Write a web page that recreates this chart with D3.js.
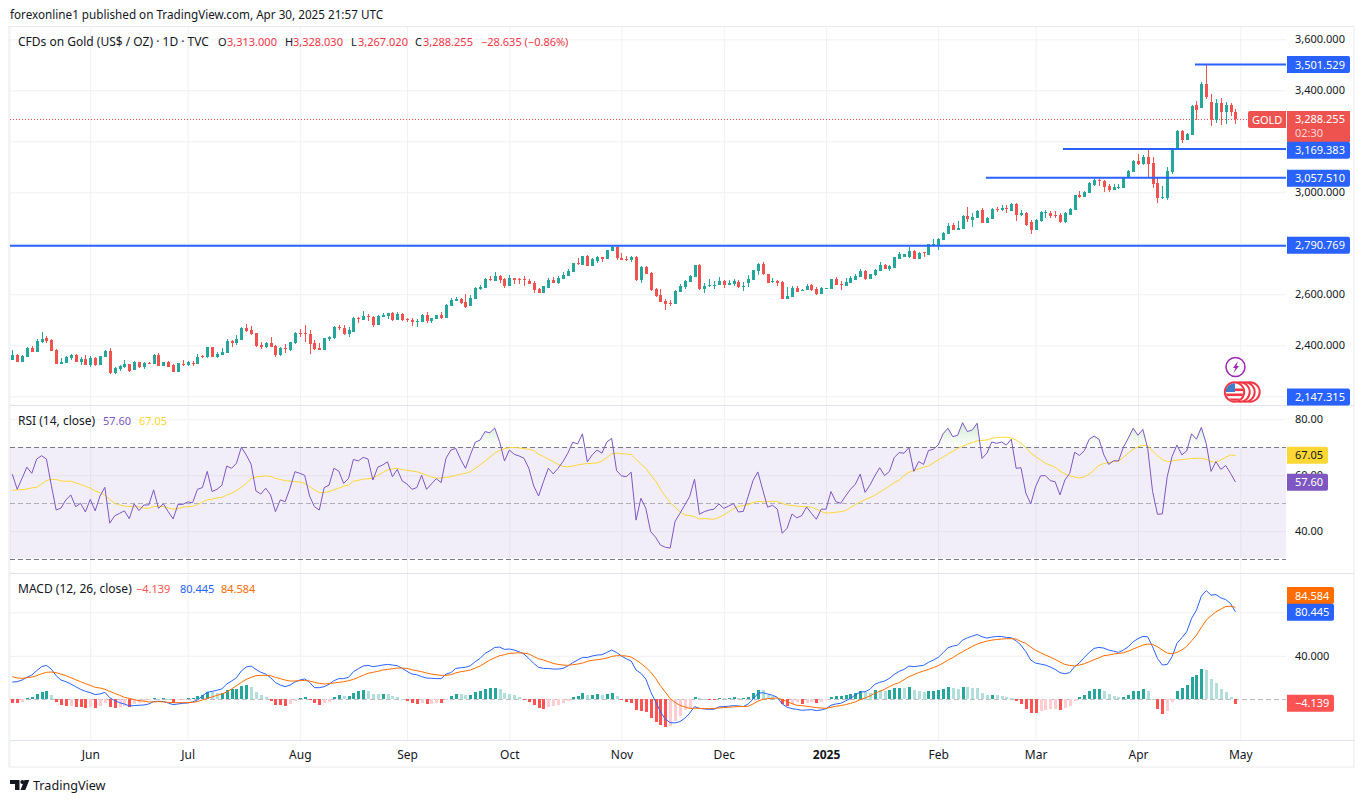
<!DOCTYPE html>
<html>
<head>
<meta charset="utf-8">
<script src="https://d3js.org/d3.v7.min.js"></script>
<style>
  html, body { margin: 0; padding: 0; background: #fff; overflow: hidden; }
  text { font-family: "Noto Sans", sans-serif; font-size: 11px; fill: #131722; }
</style>
</head>
<body>
<script>
// daily candles
var opens = [
2342,2362,2334,2354,2389,2374,2413,2429,2421,2381,2327,2330,2350,2362,2334,2346,2323,2350,2323,2354,
2378,2291,2307,2315,2327,2303,2334,2315,2330,2327,2362,2319,2334,2323,2295,2327,2323,2330,2327,2358,
2354,2393,2354,2362,2370,2417,2409,2421,2468,2460,2448,2401,2393,2409,2397,2362,2389,2381,2409,2448,
2448,2444,2409,2389,2381,2425,2429,2472,2468,2444,2452,2507,2499,2515,2511,2479,2511,2515,2527,2499,
2523,2503,2499,2491,2491,2519,2495,2503,2519,2507,2554,2574,2581,2570,2554,2581,2621,2625,2660,2652,
2672,2660,2632,2664,2660,2660,2652,2644,2621,2605,2625,2656,2644,2660,2672,2687,2723,2715,2750,2711,
2730,2746,2738,2770,2785,2742,2738,2734,2746,2656,2707,2683,2621,2597,2574,2566,2562,2609,2628,2648,
2668,2715,2621,2632,2634,2636,2652,2636,2640,2648,2628,2644,2656,2691,2719,2679,2648,2652,2648,2581,
2589,2625,2613,2617,2636,2621,2601,2621,2621,2660,2640,2632,2644,2656,2668,2691,2660,2676,2691,2715,
2699,2703,2738,2748,2745,2770,2737,2765,2754,2792,2792,2813,2837,2872,2852,2856,2908,2891,2899,2931,
2881,2895,2935,2931,2938,2928,2955,2911,2918,2885,2852,2888,2918,2920,2912,2912,2885,2911,2931,2989,
2982,2997,3029,3048,3044,3026,3009,3017,3017,3055,3080,3123,3111,3138,3115,3036,2978,2978,3078,3172,
3240,3205,3225,3341,3331,3425,3354,3284,3350,3315,3342,3313];
var highs = [
2381,2366,2361,2392,2397,2425,2452,2436,2425,2385,2350,2358,2366,2366,2354,2362,2358,2354,2358,2381,
2389,2315,2323,2342,2327,2338,2334,2334,2334,2366,2370,2334,2338,2327,2330,2342,2338,2338,2366,2362,
2393,2393,2374,2389,2425,2421,2440,2472,2483,2476,2448,2413,2413,2432,2401,2393,2405,2413,2452,2464,
2479,2460,2421,2409,2429,2436,2476,2479,2479,2472,2511,2511,2534,2523,2515,2519,2527,2527,2530,2530,
2527,2507,2507,2503,2523,2530,2507,2519,2530,2562,2585,2589,2585,2601,2597,2628,2636,2664,2672,2687,
2676,2664,2676,2664,2664,2672,2660,2652,2625,2632,2664,2668,2672,2687,2699,2723,2742,2750,2754,2742,
2750,2746,2774,2790,2790,2762,2750,2750,2750,2711,2711,2687,2625,2621,2581,2578,2617,2640,2656,2676,
2715,2719,2644,2660,2652,2668,2656,2656,2660,2656,2648,2676,2695,2723,2727,2679,2664,2656,2652,2628,
2632,2632,2621,2640,2640,2628,2628,2625,2660,2668,2652,2664,2672,2679,2699,2695,2679,2699,2727,2719,
2715,2746,2766,2757,2784,2775,2765,2767,2796,2816,2820,2844,2881,2881,2888,2912,2942,2918,2931,2938,
2904,2938,2944,2952,2952,2959,2959,2931,2921,2891,2895,2928,2931,2928,2928,2918,2921,2938,2989,3005,
3005,3040,3055,3056,3048,3033,3033,3033,3056,3087,3127,3150,3146,3166,3138,3055,3025,3099,3174,3244,
3244,3233,3342,3358,3433,3500,3385,3366,3370,3354,3350,3328];
var lows = [
2342,2334,2334,2354,2374,2374,2409,2409,2378,2327,2327,2330,2342,2334,2323,2323,2315,2319,2323,2354,
2287,2287,2299,2311,2295,2303,2311,2307,2327,2327,2319,2319,2315,2295,2295,2319,2319,2319,2327,2350,
2350,2354,2350,2362,2370,2393,2401,2421,2452,2440,2393,2385,2389,2393,2354,2358,2370,2378,2405,2432,
2413,2366,2381,2381,2381,2417,2425,2460,2440,2432,2452,2487,2499,2495,2472,2479,2511,2503,2495,2499,
2495,2491,2476,2472,2491,2487,2487,2503,2503,2507,2554,2574,2562,2546,2554,2581,2617,2625,2652,2652,
2644,2625,2632,2640,2640,2632,2640,2605,2605,2605,2625,2644,2640,2660,2672,2687,2715,2715,2711,2711,
2723,2727,2738,2770,2734,2734,2730,2727,2652,2644,2679,2613,2589,2570,2538,2554,2562,2609,2621,2648,
2668,2617,2605,2628,2621,2636,2625,2636,2632,2625,2613,2628,2656,2676,2676,2644,2644,2632,2581,2581,
2589,2609,2613,2617,2613,2597,2601,2621,2621,2636,2617,2632,2644,2656,2668,2656,2660,2672,2691,2699,
2691,2703,2738,2748,2741,2737,2737,2748,2754,2790,2774,2813,2837,2852,2852,2856,2885,2865,2899,2881,
2881,2895,2921,2928,2920,2928,2889,2907,2869,2835,2852,2885,2898,2898,2898,2878,2881,2911,2931,2979,
2982,2997,3026,3025,3001,3001,3009,3013,3017,3055,3080,3106,3107,3059,3017,2958,2974,2970,3072,3172,
3193,3205,3225,3284,3331,3366,3260,3270,3264,3268,3299,3267];
var closes = [
2362,2334,2358,2389,2374,2417,2425,2417,2378,2327,2334,2354,2362,2334,2346,2323,2350,2323,2358,2378,
2291,2311,2319,2327,2299,2334,2315,2330,2327,2362,2319,2334,2315,2295,2330,2323,2334,2327,2354,2354,
2393,2354,2366,2374,2417,2409,2425,2468,2456,2444,2397,2393,2409,2393,2362,2389,2385,2413,2448,2444,
2444,2405,2385,2381,2429,2432,2472,2468,2444,2460,2507,2503,2515,2511,2479,2515,2519,2527,2499,2523,
2499,2499,2491,2495,2519,2495,2507,2519,2507,2558,2578,2581,2566,2550,2585,2625,2628,2660,2656,2672,
2656,2632,2664,2656,2656,2656,2640,2617,2605,2632,2656,2644,2664,2676,2691,2723,2719,2750,2711,2738,
2746,2738,2774,2785,2742,2734,2734,2746,2656,2707,2679,2617,2593,2570,2562,2562,2613,2632,2652,2672,
2715,2621,2632,2636,2636,2652,2636,2644,2652,2628,2632,2660,2695,2719,2679,2644,2652,2644,2581,2593,
2625,2609,2617,2632,2617,2601,2625,2625,2660,2636,2636,2648,2664,2672,2691,2660,2679,2695,2715,2699,
2711,2746,2758,2757,2770,2737,2762,2761,2796,2796,2816,2842,2868,2852,2859,2908,2895,2904,2928,2881,
2901,2935,2931,2938,2935,2955,2911,2918,2872,2852,2891,2921,2921,2908,2908,2882,2918,2935,2989,2982,
3001,3038,3048,3044,3021,3009,3021,3021,3056,3084,3123,3111,3138,3111,3033,2978,2982,3084,3174,3240,
3205,3229,3338,3323,3425,3372,3284,3350,3315,3342,3315,3288];

var rsi = [
60.4,55,58.9,62.9,60.7,65.8,67,65.8,56.5,47.6,48.3,51.2,53,48.8,50,46.9,51.4,47.3,52.6,55.7,
42.9,45.5,46.4,47.3,44.5,49.8,47.4,49.4,49.4,54.8,48.2,49.8,47,44.4,49.6,49.6,50.5,50.2,55,55.6,
61.4,54.2,55,56.4,63.3,62.5,64.3,70,67.3,64,54.4,53.3,55.4,53,47,51.2,50.6,55.4,61.3,60.7,
60,52.6,48.8,47.6,55.6,56.5,62.5,61.5,57.1,58.9,65.7,65.1,66.4,65.8,58.3,62.9,63.7,64.8,59.5,62.1,
58,56.9,55,55.6,60,55,56.9,58.8,57.4,66.1,69,69.6,65.7,62.5,67.3,71.8,72.6,75.6,75.2,76.9,
72,65.1,69,67.5,66.9,66.1,62.5,56.2,52.6,57.7,62.5,60.5,62.5,64.9,67.9,71.8,71.2,74.8,64.8,67.3,
69,67.9,71.9,73.2,61.7,59.8,59.5,61.1,44,51.8,48.2,39.9,37.9,35.1,34.3,34,43.5,46.4,49.4,52.4,
58.6,46.1,47,47.6,47.9,49.8,48.2,49,49.9,46.9,47.1,52.4,58.1,61.2,54.8,48.6,49.3,47.9,39.3,41.1,
46.2,44.8,45.6,48.7,46.4,44.3,47.9,47.9,54.2,50.6,50,52.6,55,56.8,60.4,53.9,56.5,59.8,62.7,59.9,
61.4,66.4,68.1,67.9,69.9,61.4,64.9,63.9,68.8,69.3,70.8,74.8,76.8,73.8,74.3,78.8,75.6,76.2,78.6,66,
67.9,71.9,71.4,71.9,70.8,72.9,62.5,62.7,53.6,49.8,56,59.8,59.9,58.1,57.7,53,58.3,60.7,68.2,67.1,
68.8,72.9,74,72.9,67.3,63.9,65.2,65.1,70,73.2,76.8,74.3,76.4,69.6,54.2,46.1,46.2,59.5,66.7,70.8,
67.3,68.7,74.8,72.9,77.1,71.4,61.4,64.9,62.1,63.5,60.7,57.6];
var rsiMa = [
54.6,54.8,54.9,55.1,55.5,55.7,56.9,58.1,58.6,58.5,58,57.9,57.9,57.3,56.7,56.1,55.4,54.4,53.8,52.9,
51.4,50,49.4,49,48.9,48.8,48.7,48.3,48.2,48.8,49,48.8,48.3,47.9,48.1,48.6,48.8,48.9,49.5,50.5,
51.2,51.5,51.9,52.1,52.9,53.6,54.6,55.7,57.1,58.8,59.4,59.6,59.8,59.6,58.9,58.5,58.1,57.9,57.7,57.6,
57.1,56,54.8,53.8,53.8,54.2,54.8,55.4,56.1,56.5,57.9,58.2,58.6,58.8,59,60,61,61.9,62.3,62.5,
62,61.8,61.5,61.3,60.7,60.1,59.4,59,59,59.3,59.5,60,60.4,60.7,61.3,62.5,63.7,65.1,66.5,67.9,
68.9,69.5,69.9,69.9,69.8,69.5,69.3,68.8,67.6,66.7,65.8,64.9,63.9,63.2,63,63.3,63.7,64,64.2,64.3,
64.4,65.1,66.3,67.7,67.9,67.7,67.6,67.4,65.7,64,62.5,60.1,58,55,52.6,50.2,48.6,47,45.8,45.6,
45.2,44.4,44.5,44.4,44.3,45,45.8,46.9,48.1,48.9,49.2,49.5,50.2,50.7,50.5,50.6,50.7,50.7,50,49.4,
49.2,49,48.8,48.8,48.6,47.9,47.1,46.5,46.6,46.8,47,47.4,48.5,49.5,50.5,51.3,52,52.9,54,55.1,
56.2,57.4,58.3,59.9,61.1,61.7,62.3,62.9,63.3,64.4,65.5,66.5,67.6,68.6,69.6,70.4,71.1,71.7,72.3,72.5,
72.6,73.2,73.5,73.6,73.6,73.3,72.6,71.4,70,67.9,66.7,65.5,64.3,63.6,62.9,61.5,60.5,59.8,59.4,59,
59.5,60.4,61.9,63.5,64.2,64.5,64.9,65.1,66.4,67.9,69.3,70.2,70.7,70.5,68.6,67,65.6,64.9,65.1,65.4,
65.6,65.8,66,66.1,66.1,65.7,64.9,64.6,65.5,66.4,67.3,67.05];

var macd = [
15.9,16.2,17.7,20.2,22.3,26.3,30,31.2,27.8,21.7,17.7,16.2,14.1,11.6,9.2,7.3,6.1,4.3,4.9,6.4,
1.5,-1.2,-3.1,-4.3,-6.1,-5.8,-5.5,-5.2,-4.3,-2.1,-1.8,-2.1,-3.4,-4.9,-4.3,-3.7,-3.4,-2.4,-0.6,3.1,
6.4,7.3,8.3,9.5,14.1,16.8,19.9,26,29.7,30.6,27.5,24.8,23.2,19.9,15.3,13.1,11.6,13.1,15.9,17.7,
18.7,15.6,10.7,10.7,11.6,13.8,17.1,19,19,20.2,25.4,28.1,30.6,31.2,30,30.6,31.5,32.1,31.5,30.9,
28.4,25.7,23.2,22.6,20.8,19.6,19.3,19,19,23.2,24.5,28.4,29,29.4,30.9,34.6,37.6,42.2,44.6,47.7,
48,45.9,46.2,45.3,43.7,41.6,37.6,33,29.4,28.4,28.4,27.8,27.8,28.4,30.6,33.6,36.1,38.5,38.5,39.8,
40.7,41,43.1,45.3,43.1,39.8,37.3,35.2,26.9,23.9,18.7,7,-2.1,-11.3,-18.3,-21.4,-21.7,-20.5,-17.4,-12.8,
-6.7,-8.3,-8.9,-9.2,-9.2,-7,-6.7,-6.4,-5.8,-6.1,-6.7,-4.3,0,5.5,6.1,4.9,3.7,1.8,-4.3,-7.3,
-8.6,-9.2,-10.1,-9.8,-9.5,-10.4,-9.8,-8.6,-5.5,-4.3,-3.7,-1.5,0.9,4,6.7,7,9.2,13.8,15.6,16.8,
19.3,22.9,25.7,27.5,30.6,30,30.6,31.2,33.9,36.1,38.5,42.8,47.4,48.9,49.8,54.4,56.6,58.1,59.6,57.5,
56.3,57.2,57.8,57.8,56.9,56.6,53.8,49.8,43.7,36.1,33.3,32.4,31.5,29.7,27.5,24.5,23.5,24.5,30,33.6,
38.5,43.1,46.8,47.7,47.1,45.3,44.3,43.1,45.3,48.3,52.9,55.7,57.8,57.5,48.3,37.6,31.5,32.1,39.1,51.4,
56.6,62.1,74.3,82,94.8,100,95.7,96.3,93.3,91.7,88.1,80.445];
var signal = [
20.8,19.6,19.3,19.9,20.5,21.7,23.5,24.8,25.1,24.5,23.2,21.7,19.9,18,16.2,14.4,12.8,11,10.4,9.2,
7.3,5.5,3.7,1.8,0.9,-0.3,-1.2,-1.8,-2.4,-2.4,-2.1,-2.4,-2.8,-3.1,-3.1,-3.1,-3.1,-2.8,-2.1,-0.6,
0.9,2.1,3.7,4.9,6.7,9.5,12.5,15.6,18.3,20.2,21.7,22,22,21.7,20.2,19,17.7,16.8,16.8,17.1,
17.4,16.8,15.6,14.7,14.1,14.4,15,15.6,16.2,17.1,18.3,20.2,22,23.9,24.8,25.7,26.9,27.5,28.1,28.7,
28.7,28.4,27.2,26.3,25.4,24.2,23.2,22.6,22,22,22.6,24.2,25.4,26,26.9,28.7,30.6,33.3,36.1,38.2,
40.1,41,42.2,42.5,42.8,42.5,41.6,39.4,37.3,36.1,34.6,33,32.1,31.5,31.2,31.8,32.4,33.3,34.9,35.8,
36.4,37,37.9,39.4,40.1,40.1,39.8,38.8,36.1,33,29.4,25.1,19.3,12.5,6.7,0.6,-2.8,-5.5,-7,-8.3,
-8.3,-8.3,-8.6,-8.6,-8.3,-8,-7.6,-7.3,-7,-6.7,-6.7,-6.4,-4.3,-1.8,0,0.6,0.9,1.2,-0.3,-2.1,
-4,-5.5,-5.8,-6.4,-7,-7.6,-8,-8.3,-7.3,-6.4,-5.8,-4.9,-3.7,-2.4,-0.3,1.2,3.1,5.5,7.3,9.2,
11.6,13.8,15.3,18,20.8,22.6,24.5,26,27.5,29.1,30.9,33.3,36.1,38.2,41.3,43.7,46.2,48.6,50.8,52.3,
53.5,54.4,55,55.4,55.7,55.7,55.4,53.2,51.4,48,45,42.8,40.7,38.8,36.7,34.3,32.1,31.2,30.6,31.5,
32.7,34.6,36.4,38.2,40.1,40.7,41.6,42.2,42.8,44.3,46.2,48,49.8,50.8,50.5,48.3,45.3,42.5,41.9,43.1,
45.3,48.6,53.8,59,66.1,72.8,76.8,80.4,82.9,85.3,85.6,84.584];
var hist = [
-4,-4.1,-2.4,1.2,2.1,4.9,6.7,7.6,4,-2.4,-5.2,-6.1,-6,-7,-7.1,-8,-7.3,-8.1,-6.1,-3.4,
-7,-8,-7,-6.1,-7.3,-4.3,-3.4,-1.5,-0.6,1.2,0.3,1.2,0.3,-3.4,-0.6,-0.3,1.2,1.3,3.1,4,
6.7,6.6,5.8,5.9,8.6,9.5,9.6,12.2,13.1,11.3,6.7,4,2.1,-1.5,-5.2,-5.3,-6.1,-4.3,-1.5,1.2,
2.1,-0.3,-3.4,-5.2,-3.4,-2.4,2.1,4,3.1,3.2,5.8,7.6,8.6,7.6,4.9,4.8,4.9,4.8,3.1,2.1,
0.6,-1.5,-3.4,-4.3,-3.4,-4.3,-4.2,-3.4,-3.5,-0.6,3.1,4.9,4.8,4,4.1,6.7,7.6,9.5,10.4,10.5,
9.5,5.8,4.9,4,2.1,-0.6,-2.4,-5.2,-8,-9.2,-7,-6.1,-5.2,-3.4,-1.5,2.1,3.1,5.8,4,4.1,
4.9,4,4.9,5.8,3.1,-0.3,-2.4,-3.4,-9.8,-10.7,-11.6,-17.1,-20.8,-23.5,-25.4,-24.5,-19.9,-15.3,-9.8,-8.9,
2.1,1.2,0.3,-0.6,-0.7,1.2,1.1,1.2,2.1,0.9,1.2,2.1,5.8,8.6,8.3,4,3.1,1.2,-4.3,-6.1,
-4.3,-2.4,-4.3,-3.4,-2.4,-3.4,-2.4,-0.6,2.1,3.1,3.2,4,4.9,5.8,7.6,7,6.1,8.3,8.2,7.6,
8.6,10.1,10.4,10.1,11,8.6,7.6,7,7.6,7.7,8.6,9.5,11,10.1,9.5,11,10.9,10.4,10.3,5.8,
4,4.1,4,3.1,2.1,1.2,-2.1,-4.3,-8.9,-12.5,-12.6,-10.7,-9.8,-8.9,-8.8,-9.8,-8,-6.1,-1.5,2.1,
4,7.6,9.5,9.6,7.6,4.9,3.1,2.1,2.2,4,7.6,7.7,9.5,7.6,0.3,-8.9,-13.5,-10.7,-2.4,7.6,
10.4,13.1,20.5,22.3,27.8,26.9,18.7,15,9.5,6.7,2.1,-4.139];

// axis ticks
var monthIndex = [16, 36, 59, 81, 102, 125, 146, 167, 190, 210, 231, 252];
var monthLabels = ["Jun", "Jul", "Aug", "Sep", "Oct", "Nov", "Dec", "2025", "Feb", "Mar", "Apr", "May"];
var priceGrid = [3600, 3400, 3200, 3000, 2800, 2600, 2400, 2200];
var priceTicks = [3600, 3400, 3000, 2600, 2400];
var rsiGrid = [80, 60, 40];
var rsiTicks = [80, 60, 40];
var macdGrid = [80, 40];
var macdTicks = [40, 0];

// drawn horizontal rays: price and the candle they start from
var levelPrices = [3501.529, 3169.383, 3057.51, 2790.769];
var levelStarts = [242.7, 215.6, 199.8, -0.5];

var w = 1364, h = 803;
var paneL = 10, paneR = 1286, frameR = 1354;
var mainTop = 27, mainBot = 405, rsiBot = 573, macdBot = 740, frameBot = 767;
var upColor = "#26a69a", downColor = "#ef5350", blue = "#2962ff", grid = "#f0f1f5";

var svg = d3.select("body").append("svg").attr("width", w).attr("height", h).style("display", "block");

var x = d3.scaleLinear().domain([0, 252]).range([12.3, 1240.3]);
var priceY = d3.scaleLinear().domain([2400, 3400]).range([345.3, 90.3]);
var rsiY = d3.scaleLinear().domain([30, 80]).range([559.3, 419.3]);
var macdY = d3.scaleLinear().domain([0, 80]).range([699.3, 612.3]);
var px = function(i) { return Math.round(x(i)); };

var defs = svg.append("defs");
function addClip(id, y0, y1) {
	defs.append("clipPath").attr("id", id).append("rect")
		.attr("x", paneL).attr("y", y0).attr("width", paneR - paneL).attr("height", y1 - y0);
}
addClip("clipMain", mainTop, mainBot);
addClip("clipRsi", mainBot, rsiBot);
addClip("clipMacd", rsiBot, macdBot);
addClip("clipOver", mainBot, rsiY(70));

//漸層 for the overbought fill
var grad = defs.append("linearGradient").attr("id", "overFill")
	.attr("gradientUnits", "userSpaceOnUse").attr("x1", 0).attr("x2", 0).attr("y1", rsiY(80)).attr("y2", rsiY(70));
grad.append("stop").attr("offset", "0%").attr("stop-color", "#4caf50").attr("stop-opacity", 0.28);
grad.append("stop").attr("offset", "100%").attr("stop-color", "#4caf50").attr("stop-opacity", 0);

// gridlines
function gridY(scale, ticks) {
	var g = svg.append("g").attr("transform", "translate(" + paneR + ",0)")
		.call(d3.axisLeft(scale).tickValues(ticks).tickSize(paneR - paneL).tickFormat(""));
	g.select(".domain").remove();
	g.selectAll("line").attr("stroke", grid);
}
gridY(priceY, priceGrid);
gridY(rsiY, rsiGrid);
gridY(macdY, macdGrid);

var timeGrid = svg.append("g").attr("transform", "translate(0," + mainTop + ")")
	.call(d3.axisBottom(x).tickValues(monthIndex).tickSize(macdBot - mainTop).tickFormat(""));
timeGrid.select(".domain").remove();
timeGrid.selectAll("line").attr("stroke", grid);

// frame and pane separators
svg.append("rect").attr("x", paneL - 1).attr("y", mainTop - 0.5).attr("width", frameR - paneL + 1).attr("height", frameBot - mainTop + 0.5)
	.attr("fill", "none").attr("stroke", "#e8eaee").attr("stroke-width", 1);
svg.append("line").attr("x1", paneL).attr("x2", paneL).attr("y1", mainTop).attr("y2", frameBot).attr("stroke", "#f0f1f5").attr("stroke-width", 1);
[mainBot, rsiBot, macdBot].forEach(function(y) {
	svg.append("line").attr("x1", paneL).attr("x2", frameR).attr("y1", y + 0.5).attr("y2", y + 0.5).attr("stroke", "#e0e3eb");
});

// candles
var main = svg.append("g").attr("clip-path", "url(#clipMain)");
main.append("line").attr("x1", paneL).attr("x2", paneR)
	.attr("y1", Math.round(priceY(closes[closes.length - 1])) + 0.5).attr("y2", Math.round(priceY(closes[closes.length - 1])) + 0.5)
	.attr("stroke", downColor).attr("stroke-dasharray", "1 2");

var idx = d3.range(opens.length);
var candleColor = function(i) { return closes[i] >= opens[i] ? upColor : downColor; };
main.selectAll("rect.wick").data(idx).enter().append("rect").attr("class", "wick")
	.attr("x", function(i) { return px(i); }).attr("width", 1)
	.attr("y", function(i) { return Math.round(priceY(highs[i])); })
	.attr("height", function(i) { return Math.max(1, Math.round(priceY(lows[i])) - Math.round(priceY(highs[i]))); })
	.attr("fill", candleColor);
main.selectAll("rect.body").data(idx).enter().append("rect").attr("class", "body")
	.attr("x", function(i) { return px(i) - 1; }).attr("width", 3)
	.attr("y", function(i) { return Math.round(priceY(Math.max(opens[i], closes[i]))); })
	.attr("height", function(i) { return Math.max(1, Math.round(priceY(Math.min(opens[i], closes[i]))) - Math.round(priceY(Math.max(opens[i], closes[i])))); })
	.attr("fill", candleColor);

// support and resistance rays
levelPrices.forEach(function(p, k) {
	main.append("line").attr("x1", x(levelStarts[k])).attr("x2", paneR)
		.attr("y1", priceY(p)).attr("y2", priceY(p)).attr("stroke", blue).attr("stroke-width", 2);
});

// RSI pane
var rsiPane = svg.append("g").attr("clip-path", "url(#clipRsi)");
rsiPane.append("rect").attr("x", paneL).attr("width", paneR - paneL).attr("y", rsiY(70)).attr("height", rsiY(30) - rsiY(70) - 1)
	.attr("fill", "#7e57c2").attr("fill-opacity", 0.1);
[[70, 1], [50, 0.55], [30, 1]].forEach(function(d) {
	var yLine = Math.round(rsiY(d[0])) + 0.5;
	rsiPane.append("line").attr("x1", paneL).attr("x2", paneR).attr("y1", yLine).attr("y2", yLine)
		.attr("stroke", "#787b86").attr("stroke-opacity", d[1]).attr("stroke-dasharray", "5 3");
});
var overArea = d3.area().x(function(d, i) { return x(i); }).y0(rsiY(70)).y1(function(d) { return rsiY(d); });
rsiPane.append("path").attr("clip-path", "url(#clipOver)").attr("d", overArea(rsi)).attr("fill", "url(#overFill)");
var rsiLine = d3.line().x(function(d, i) { return x(i); }).y(function(d) { return rsiY(d); });
rsiPane.append("path").attr("d", rsiLine(rsiMa)).attr("fill", "none").attr("stroke", "#fdd835").attr("stroke-width", 1);
rsiPane.append("path").attr("d", rsiLine(rsi)).attr("fill", "none").attr("stroke", "#7e57c2").attr("stroke-width", 1);

// MACD pane
var macdPane = svg.append("g").attr("clip-path", "url(#clipMacd)");
macdPane.append("line").attr("x1", paneL).attr("x2", paneR).attr("y1", Math.round(macdY(0)) + 0.5).attr("y2", Math.round(macdY(0)) + 0.5)
	.attr("stroke", "#787b86").attr("stroke-opacity", 0.5).attr("stroke-dasharray", "5 3");
function histColor(i) {
	var rising = i > 0 && hist[i] > hist[i - 1];
	if (hist[i] >= 0) return rising ? "#26a69a" : "#b2dfdb";
	return rising ? "#ffcdd2" : "#ff5252";
}
macdPane.selectAll("rect.hist").data(idx).enter().append("rect").attr("class", "hist")
	.attr("x", function(i) { return px(i) - 1; }).attr("width", 3)
	.attr("y", function(i) { return Math.round(macdY(Math.max(0, hist[i]))); })
	.attr("height", function(i) { return Math.max(1, Math.round(Math.abs(macdY(hist[i]) - macdY(0)))); })
	.attr("fill", histColor);
var macdLine = d3.line().x(function(d, i) { return x(i); }).y(function(d) { return macdY(d); });
macdPane.append("path").attr("d", macdLine(macd)).attr("fill", "none").attr("stroke", blue).attr("stroke-width", 1);
macdPane.append("path").attr("d", macdLine(signal)).attr("fill", "none").attr("stroke", "#ff6d00").attr("stroke-width", 1);

// right hand axes
function axisRight(scale, ticks, fmt) {
	var g = svg.append("g").attr("transform", "translate(" + paneR + ",0)")
		.call(d3.axisRight(scale).tickValues(ticks).tickSize(0).tickPadding(9).tickFormat(fmt));
	g.select(".domain").remove();
	g.attr("font-family", null).attr("font-size", null);
}
axisRight(priceY, priceTicks, d3.format(",.3f"));
axisRight(rsiY, rsiTicks, d3.format(".2f"));
axisRight(macdY, macdTicks, d3.format(".3f"));

// time axis
var timeAxis = svg.append("g").attr("transform", "translate(0," + macdBot + ")")
	.call(d3.axisBottom(x).tickValues(monthIndex).tickSize(0).tickPadding(10)
		.tickFormat(function(d, i) { return monthLabels[i]; }));
timeAxis.select(".domain").remove();
timeAxis.attr("font-family", null).attr("font-size", null);
timeAxis.selectAll("text").style("font-size", "12px").style("font-weight", function(d, i) { return monthLabels[i] == "2025" ? "bold" : null; });

// last value tags on the scales
function tag(label, yc, color, textColor, width) {
	svg.append("path")
		.attr("d", "M" + (paneR + 1) + "," + (yc - 8.5) + "h" + (width - 2) + "q2,0 2,2v13q0,2 -2,2h-" + (width - 2) + "z")
		.attr("fill", color);
	svg.append("text").attr("x", paneR + 9).attr("y", yc + 4).text(label).style("fill", textColor);
}
svg.append("rect").attr("x", paneR + 1).attr("y", 111).attr("width", 63).attr("height", 31).attr("fill", "#ef5350");
svg.append("text").attr("x", paneR + 9).attr("y", 123).text("3,288.255").style("fill", "#fff");
svg.append("text").attr("x", paneR + 9).attr("y", 137).text("02:30").style("fill", "#fbd5d4");
svg.append("path").attr("d", "M" + paneR + ",111v17h-36q-2,0 -2,-2v-13q0,-2 2,-2z").attr("fill", "#ef5350");
svg.append("text").attr("x", 1252).attr("y", 123.5).text("GOLD").style("fill", "#fff");

tag("3,501.529", 64.5, blue, "#fff", 63);
tag("3,169.383", 150.3, blue, "#fff", 63);
tag("3,057.510", 178.3, blue, "#fff", 63);
tag("2,790.769", 245.3, blue, "#fff", 63);
tag("2,147.315", 397, blue, "#fff", 63);
tag("67.05", 455.3, "#fdd835", "#131722", 41);
tag("57.60", 482.3, "#7e57c2", "#fff", 41);
tag("84.584", 595.5, "#ff6d00", "#fff", 47);
tag("80.445", 612.3, blue, "#fff", 47);
tag("\u22124.139", 703.3, "#ff5252", "#fff", 47);

// chart legends, words are a little larger than the digits
function legend(y, parts) {
	parts.forEach(function(p) {
		svg.append("text").attr("x", p[0]).attr("y", y).text(p[1]).style("fill", p[2]).style("font-size", (p[3] || 11) + "px");
	});
}
var red = "#f23645", ink = "#131722";
legend(19, [[10, "forexonline1 published on TradingView.com, Apr 30, 2025 21:57 UTC", ink, 11.7]]);
legend(46, [[18, "CFDs on Gold (US$ / OZ) \u00b7 1D \u00b7 TVC", ink, 12],
	[218, "O", ink], [227, "3,313.000", red], [285, "H", ink], [293, "3,328.030", red],
	[351, "L", ink], [358, "3,267.020", red], [415, "C", ink], [423, "3,288.255", red],
	[481, "\u221228.635 (\u22120.86%)", red]]);
legend(425, [[18, "RSI (14, close)", ink, 12], [103, "57.60", "#7e57c2"], [139, "67.05", "#fdd835"]]);
legend(593, [[18, "MACD (12, 26, close)", ink, 12], [136, "\u22124.139", "#ff5252"], [180, "80.445", blue], [221, "84.584", "#ff6d00"]]);

// event icons
svg.append("circle").attr("cx", 1235.5).attr("cy", 367).attr("r", 9.5).attr("fill", "#fff").attr("stroke", "#9c27b0").attr("stroke-width", 1.5);
svg.append("path").attr("d", "M1238,361l-5,7h2.5l-2,5l5.5,-7h-2.5z").attr("fill", "#9c27b0");
[1250, 1245, 1240, 1234.5].forEach(function(cx) {
	svg.append("circle").attr("cx", cx).attr("cy", 392).attr("r", 9.7).attr("fill", "#fff").attr("stroke", "#f23645").attr("stroke-width", 2);
});
defs.append("clipPath").attr("id", "flagClip").append("circle").attr("cx", 1234.5).attr("cy", 392).attr("r", 8.7);
var flag = svg.append("g").attr("clip-path", "url(#flagClip)");
[388.5, 393.5, 398.5].forEach(function(y) {
	flag.append("rect").attr("x", 1224).attr("y", y).attr("width", 21).attr("height", 2.6).attr("fill", "#f23645");
});
flag.append("rect").attr("x", 1224).attr("y", 382).attr("width", 11).attr("height", 10).attr("fill", "#3f7fd0");

// logo
var logo = svg.append("g").attr("fill", ink);
logo.append("path").attr("d", "M10,780h9.5v10h-4.5v-6h-5z");
logo.append("circle").attr("cx", 22.3).attr("cy", 782).attr("r", 2);
logo.append("path").attr("d", "M24.5,780h4.8l-4,10h-4.8z");
svg.append("text").attr("x", 33).attr("y", 790).text("TradingView").style("font-size", "12.6px");
</script>
</body>
</html>
